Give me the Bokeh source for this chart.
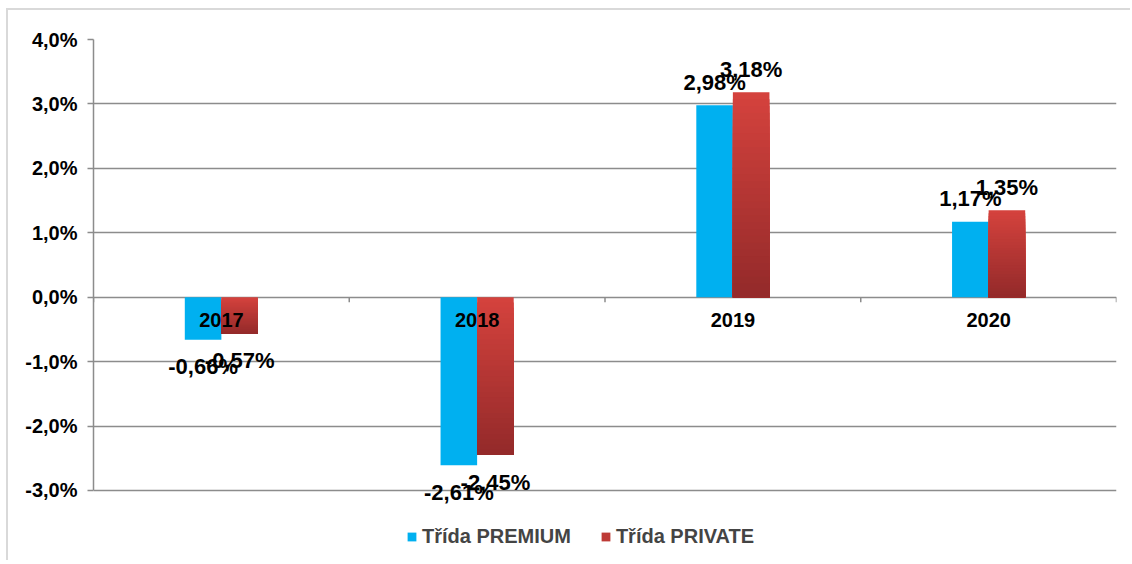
from bokeh.plotting import figure
from bokeh.models import (FactorRange, Range1d, FixedTicker, ColumnDataSource,
                          Legend, LegendItem, CustomJSTickFormatter)
from bokeh.transform import dodge
from bokeh.core.properties import value
from bokeh.embed import file_html
from bokeh.resources import INLINE

years = ["2017", "2018", "2019", "2020"]
premium = [-0.66, -2.61, 2.98, 1.17]
private = [-0.57, -2.45, 3.18, 1.35]
y_ticks = [-3, -2, -1, 0, 1, 2, 3, 4]
series_names = ["Třída PREMIUM", "Třída PRIVATE"]

BLUE = "#00B0F0"
RED_TOP = (212, 66, 61)
RED_BOT = (148, 42, 42)
GRID = "#8C8C8C"
FONT = "Liberation Sans"
BAR_W = 0.143
HALF = BAR_W / 2

p = figure(x_range=FactorRange(*years, range_padding=0), y_range=Range1d(-4.009, 4),
           width=1124, height=552, output_backend="svg", toolbar_location=None,
           min_border_left=85, min_border_right=16, min_border_top=29,
           min_border_bottom=7)
p.styles = {"margin-left": "6px", "margin-top": "8px",
            "border-top": "2px solid #D9D9D9", "border-left": "2px solid #D9D9D9"}
p.outline_line_color = None
p.background_fill_color = "white"

# grid
p.xgrid.grid_line_color = None
p.ygrid.ticker = FixedTicker(ticks=y_ticks)
p.ygrid.grid_line_color = GRID
p.ygrid.grid_line_width = 1.5

# y axis
p.yaxis.ticker = FixedTicker(ticks=y_ticks)
p.yaxis.bounds = (min(y_ticks), max(y_ticks))
p.yaxis.formatter = CustomJSTickFormatter(code="return tick.toFixed(1).replace('.', ',') + '%';")
p.yaxis.axis_line_color = GRID
p.yaxis.axis_line_width = 1.5
p.yaxis.major_tick_line_color = GRID
p.yaxis.major_tick_line_width = 1.5
p.yaxis.major_tick_out = 6
p.yaxis.major_tick_in = 0
p.yaxis.minor_tick_line_color = None
p.yaxis.major_label_standoff = 10
p.yaxis.major_label_text_font = FONT
p.yaxis.major_label_text_font_style = "bold"
p.yaxis.major_label_text_font_size = "20px"
p.yaxis.major_label_text_color = "black"

p.xaxis.visible = False

# boundary ticks on the zero line
bx = [(y, -0.5) for y in years] + [(years[-1], 0.5)]
p.segment(x0=bx, x1=bx, y0=[0] * len(bx), y1=[-0.08] * len(bx),
          line_color=GRID, line_width=1.5)

# premium bars
src_p = ColumnDataSource(dict(x=years, v=premium))
r_prem = p.vbar(x=dodge("x", -HALF, range=p.x_range), top="v", bottom=0, width=BAR_W,
                source=src_p, fill_color=BLUE, line_color=None)

# private bars with vertical gradient (layered slices)
N = 30
xs, tops, bots, cols = [], [], [], []
for yr, v in zip(years, private):
    hi, lo = max(v, 0), min(v, 0)
    step = (hi - lo) / N
    for k in range(N):
        t = k / (N - 1)
        c = tuple(int(round(a + (b - a) * t)) for a, b in zip(RED_TOP, RED_BOT))
        xs.append(yr)
        tops.append(hi - k * step)
        bots.append(lo)
        cols.append("#%02x%02x%02x" % c)
src_r = ColumnDataSource(dict(x=xs, top=tops, bottom=bots, color=cols))
r_priv = p.vbar(x=dodge("x", HALF, range=p.x_range), top="top", bottom="bottom",
                width=BAR_W, source=src_r, fill_color="color", line_color=None)

# category labels just below the zero line
src_c = ColumnDataSource(dict(x=years, y=[0] * len(years)))
p.text(x="x", y="y", text="x", source=src_c, y_offset=23,
       text_align="center", text_baseline="middle",
       text_font=value(FONT), text_font_style="bold", text_font_size="20px",
       text_color="black")

# data labels
def fmt(v):
    return ("%.2f" % v).replace(".", ",") + "%"

for vals, off in ((premium, -HALF), (private, HALF)):
    s = ColumnDataSource(dict(x=years, y=vals, t=[fmt(v) for v in vals],
                              yo=[-23 if v >= 0 else 27 for v in vals]))
    p.text(x=dodge("x", off, range=p.x_range), y="y", text="t", y_offset="yo",
           source=s, text_align="center", text_baseline="middle",
           text_font=value(FONT), text_font_style="bold", text_font_size="22px",
           text_color="black")

legend = Legend(items=[LegendItem(label=series_names[0], renderers=[r_prem]),
                       LegendItem(label=series_names[1], renderers=[r_priv], index=N // 3)],
                location=(313, 7), orientation="horizontal",
                border_line_color=None, background_fill_alpha=0, padding=0,
                spacing=29, glyph_width=11, glyph_height=11, label_standoff=5,
                label_text_font=FONT, label_text_font_style="bold",
                label_text_font_size="20px", margin=0)
p.add_layout(legend)

open("out.html", "w").write(file_html(p, INLINE))
